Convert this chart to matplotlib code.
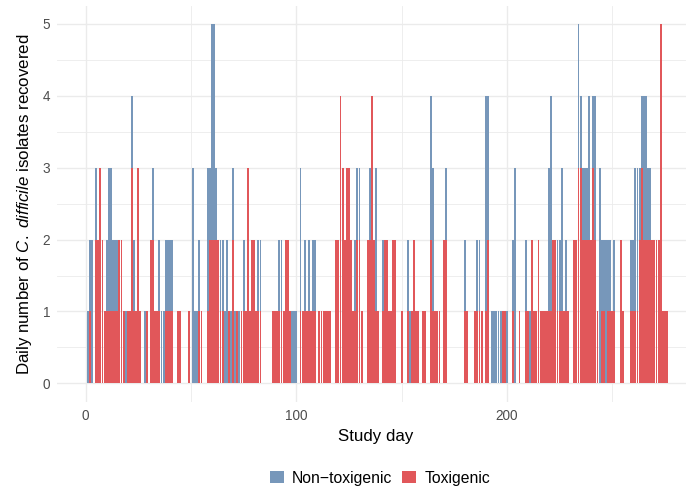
import numpy as np
import matplotlib
matplotlib.use("Agg")
import matplotlib.pyplot as plt
from matplotlib.patches import Patch
from matplotlib.ticker import MultipleLocator

plt.rcParams['font.family'] = ['Liberation Sans', 'DejaVu Sans']
plt.rcParams['mathtext.fontset'] = 'custom'
plt.rcParams['mathtext.rm'] = 'Liberation Sans'
plt.rcParams['mathtext.it'] = 'Liberation Sans:italic'

# study days 1..276, one row = 10 days
study_day = np.arange(1, 277)

toxigenic = [
    0, 1, 0, 0, 2, 2, 3, 2, 1, 1,
    1, 1, 1, 1, 1, 2, 2, 1, 0, 1,
    1, 3, 1, 1, 3, 1, 0, 0, 1, 0,
    2, 2, 1, 1, 1, 0, 0, 1, 1, 1,
    1, 0, 0, 1, 1, 0, 0, 0, 1, 0,
    0, 0, 0, 1, 1, 0, 0, 1, 2, 2,
    2, 2, 2, 1, 1, 0, 0, 1, 0, 2,
    0, 1, 0, 1, 1, 1, 3, 1, 2, 2,
    1, 1, 1, 0, 0, 0, 0, 0, 1, 1,
    1, 1, 1, 1, 2, 2, 1, 0, 0, 0,
    0, 1, 1, 1, 1, 1, 1, 1, 1, 0,
    1, 1, 1, 1, 1, 1, 0, 0, 2, 2,
    4, 3, 2, 3, 3, 2, 1, 1, 2, 2,
    1, 0, 0, 2, 2, 4, 2, 1, 1, 0,
    1, 2, 2, 1, 1, 2, 2, 0, 0, 1,
    0, 0, 1, 0, 1, 2, 1, 1, 0, 1,
    1, 0, 0, 2, 1, 1, 1, 1, 0, 2,
    2, 0, 0, 0, 0, 0, 0, 0, 0, 1,
    1, 0, 0, 0, 1, 1, 1, 1, 0, 1,
    2, 0, 0, 0, 0, 0, 0, 1, 1, 0,
    0, 0, 1, 0, 0, 1, 0, 0, 1, 1,
    0, 2, 1, 1, 2, 1, 1, 1, 1, 1,
    1, 2, 2, 1, 1, 1, 1, 1, 1, 0,
    0, 2, 2, 3, 3, 2, 2, 2, 2, 2,
    3, 2, 1, 0, 1, 1, 0, 1, 1, 1,
    1, 0, 0, 2, 1, 0, 0, 0, 1, 1,
    1, 1, 2, 3, 2, 2, 2, 2, 2, 2,
    2, 2, 5, 1, 1, 1,
]

non_toxigenic = [
    1, 1, 2, 0, 1, 0, 0, 0, 0, 1,
    2, 2, 1, 1, 1, 0, 0, 0, 1, 0,
    0, 1, 1, 0, 0, 0, 0, 1, 0, 0,
    0, 1, 0, 0, 1, 1, 1, 1, 1, 1,
    1, 0, 0, 0, 0, 0, 0, 0, 0, 0,
    3, 1, 1, 1, 0, 0, 0, 2, 1, 3,
    3, 1, 0, 1, 1, 1, 2, 0, 1, 1,
    1, 0, 1, 0, 1, 0, 0, 0, 0, 0,
    0, 1, 1, 0, 0, 0, 0, 0, 0, 0,
    0, 1, 1, 0, 0, 0, 0, 1, 1, 1,
    0, 2, 0, 1, 0, 1, 0, 1, 1, 0,
    0, 0, 0, 0, 0, 0, 0, 0, 0, 0,
    0, 0, 0, 0, 0, 0, 0, 1, 1, 1,
    0, 0, 0, 0, 1, 0, 0, 2, 0, 0,
    1, 0, 0, 0, 0, 0, 0, 0, 0, 0,
    0, 0, 1, 1, 0, 0, 0, 0, 0, 0,
    0, 0, 0, 2, 2, 0, 0, 0, 0, 0,
    1, 0, 0, 0, 0, 0, 0, 0, 0, 1,
    0, 0, 0, 0, 0, 1, 1, 0, 0, 3,
    2, 0, 1, 1, 1, 1, 1, 0, 0, 1,
    0, 0, 1, 3, 0, 0, 0, 0, 1, 0,
    1, 0, 0, 0, 0, 0, 0, 0, 0, 2,
    3, 0, 0, 1, 1, 2, 0, 1, 0, 0,
    0, 0, 0, 2, 1, 1, 1, 1, 2, 0,
    1, 2, 0, 3, 1, 1, 2, 1, 1, 0,
    1, 0, 0, 0, 0, 0, 0, 0, 1, 1,
    2, 2, 1, 1, 2, 2, 1, 1, 0, 0,
    0, 0, 0, 0, 0, 0,
]

tox = np.array(toxigenic)
nontox = np.array(non_toxigenic)

col_non = '#7797BA'
col_tox = '#E1575A'

fig = plt.figure(figsize=(6.86, 4.90), dpi=100)
ax = fig.add_axes([57/686, 1 - 401.7/490, (695 - 57)/686, (401.7 - 6)/490])

ax.bar(study_day, tox, width=0.9, color=col_tox, linewidth=0, zorder=2)
ax.bar(study_day, nontox, bottom=tox, width=0.9, color=col_non, linewidth=0, zorder=2)

ax.set_xlim(-13.6, 289.3)
ax.set_ylim(-0.256, 5.25)
ax.xaxis.set_major_locator(MultipleLocator(100))
ax.xaxis.set_minor_locator(MultipleLocator(50))
ax.yaxis.set_major_locator(MultipleLocator(1))
ax.yaxis.set_minor_locator(MultipleLocator(0.5))
ax.grid(which='major', color='#EBEBEB', linewidth=1.0, zorder=0)
ax.grid(which='minor', color='#EBEBEB', linewidth=0.6, zorder=0)
ax.set_axisbelow(True)
for s in ax.spines.values():
    s.set_visible(False)
ax.tick_params(which='both', length=0, pad=5, labelsize=9.8, labelcolor='#4D4D4D')

ax.set_xlabel('Study day', fontsize=12.2, va='center')
ax.xaxis.set_label_coords(0.5, (401.7 - 436)/395.7)
ax.set_ylabel(r'Daily number of $\mathit{C.}$ $\mathit{difficile}$ isolates recovered',
              fontsize=12.2, va='center', ha='center')
ax.yaxis.set_label_coords((25 - 57)/638, 0.5)

handles = [Patch(facecolor=col_non, edgecolor='none'), Patch(facecolor=col_tox, edgecolor='none')]
fig.legend(handles, ['Non\u2212toxigenic', 'Toxigenic'], loc='center',
           bbox_to_anchor=(380/686, 1 - 478/490), ncol=2, frameon=False,
           fontsize=11.3, handlelength=0.87, handleheight=0.87,
           handletextpad=0.55, columnspacing=0.6, borderpad=0)

fig.savefig('out.png', dpi=100)
